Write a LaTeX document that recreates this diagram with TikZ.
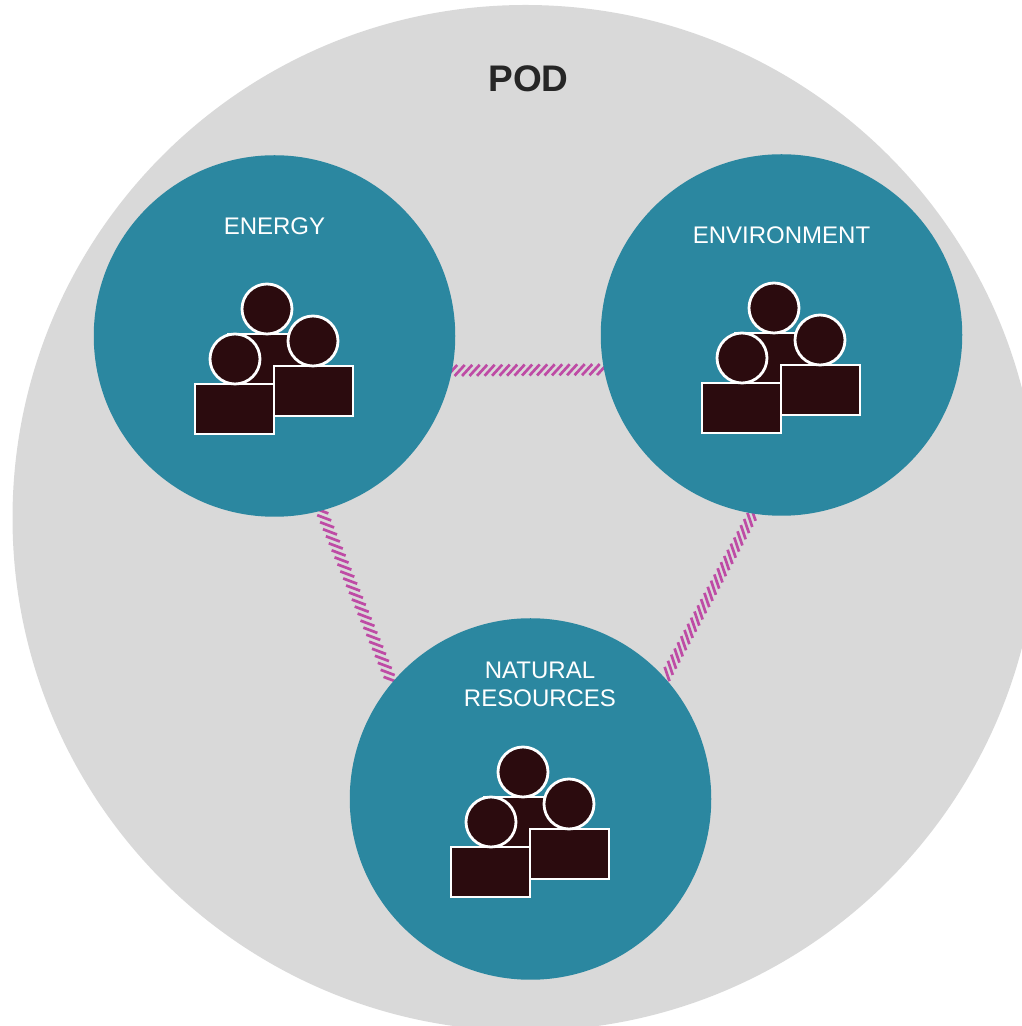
\documentclass[tikz,border=0pt]{standalone}
\usepackage{fontspec}
\setmainfont{Liberation Sans}
\usetikzlibrary{decorations.markings,backgrounds}
\definecolor{podgray}{HTML}{D9D9D9}
\definecolor{teamteal}{HTML}{2B87A0}
\definecolor{persondark}{HTML}{2B0B0E}
\definecolor{linkpink}{HTML}{BE4BA5}
\tikzset{
  teamcircle/.style={circle,fill=teamteal,minimum size=361.5pt,inner sep=0pt},
  teamlabel/.style={text=white,align=center,font=\fontsize{24}{28}\selectfont},
  person/.style={fill=persondark,draw=white,line width=2.8pt},
  hatchstroke/.style={draw=linkpink,line width=2.7pt},
  hatchlink/.style={decorate,decoration={markings,
    mark=between positions 0 and 1 step #1 with {\draw[hatchstroke] (47:-7.5) -- (47:7.5);}}}
}
\begin{document}
\begin{tikzpicture}[x=1pt,y=1pt]
        \useasboundingbox (0,0) rectangle (1022,1026);

        % Circulos de cada equipo
        \node[teamcircle] (energy) at (274.5,690) {};
        \node[teamcircle] (environment) at (781.5,691) {};
        \node[teamcircle] (natural) at (530.5,227) {};

        % Fondo y enlaces
        \begin{pgfonlayer}{background}
            \fill[podgray] (525.5,508) circle (513);
            \path[hatchlink=7.5pt] (energy.-11) -- (environment.191);
            \path[hatchlink=7.6pt] (energy.-75) -- (natural.140);
            \path[hatchlink=7pt] (environment.-99) -- (natural.42);
        \end{pgfonlayer}

        % Etiquetas
        \node[font=\fontsize{37}{42}\selectfont\bfseries,text=black!85] (pod) at (528.5,947) {POD};
        \node[teamlabel] (energylabel) at (274.5,799.5) {ENERGY};
        \node[teamlabel] (environmentlabel) at (781.5,791) {ENVIRONMENT};
        \node[teamlabel] (naturallabel) at (540,342) {NATURAL\\RESOURCES};

        % Grupo de personas
        \foreach \grupo in {energy,environment,natural}{
            \begin{scope}[shift={(\grupo.center)},xshift=-0.5pt]
                \draw[person] (-46,2) rectangle (33,-48);
                \draw[person] (-7,27) circle (25);
                \draw[person] (0,-30) rectangle (79,-80);
                \draw[person] (39,-5) circle (25);
                \draw[person] (-79,-48) rectangle (0,-98);
                \draw[person] (-39,-23) circle (25);
            \end{scope}
        }
\end{tikzpicture}
\end{document}
